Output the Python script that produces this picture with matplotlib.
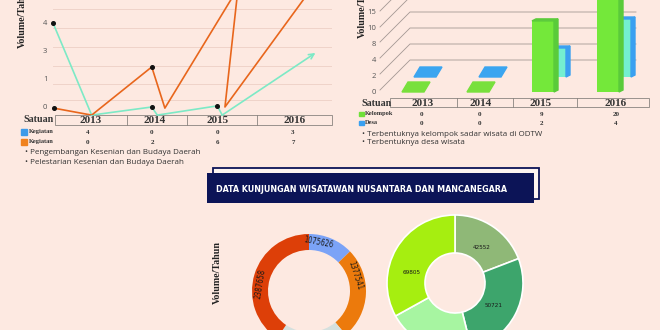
import numpy as np
import matplotlib
matplotlib.use("Agg")
import matplotlib.pyplot as plt
from matplotlib.patches import Rectangle, Polygon
from matplotlib import font_manager as fm

# ---------------- data ----------------
years = ['2013', '2014', '2015', '2016']
kegiatan_pengembangan = [4, 0, 0, 3]
kegiatan_pelestarian = [0, 2, 6, 7]
kelompok = [0, 0, 9, 20]
desa = [0, 0, 2, 4]

left_tick_labels = ['0', '1', '3', '4']
right_tick_labels = ['0', '2', '4', '8', '10', '15']

# line chart vertices (x in year units, y in tick-position units)
teal_x = [2012.45, 2013.01, 2013.88, 2013.96, 2014.83, 2014.90, 2016.25]
teal_y = [3.0, -0.29, 0.0, -0.29, 0.04, -0.29, 1.93]
orange_x = [2012.46, 2013.01, 2013.88, 2014.07, 2015.13, 2014.94, 2016.20]
orange_y = [-0.04, -0.29, 1.43, -0.04, 4.25, 0.0, 4.25]

donut1_labels = ['1075626', '1377541', '', '2387658']
donut1_shares = [46, 94, 74, 146]
donut2_labels = ['42552', '50721', '', '69805']
donut2_shares = [69, 97, 75, 119]

bullets_left = ['Pengembangan Kesenian dan Budaya Daerah',
                'Pelestarian Kesenian dan Budaya Daerah']
bullets_right = ['Terbentuknya kelompok sadar wisata di ODTW',
                 'Terbentuknya desa wisata']
title = 'DATA KUNJUNGAN WISATAWAN NUSANTARA DAN MANCANEGARA'

# ---------------- style ----------------
BG = '#fde9e1'
TEAL = '#7de9c6'
ORANGE = '#e8661c'
NAVY = '#0c1457'


def has(name):
    try:
        fm.findfont(fm.FontProperties(family=name), fallback_to_default=False)
        return True
    except Exception:
        return False


def condensed_available():
    try:
        p = fm.findfont(fm.FontProperties(family='DejaVu Sans', stretch='condensed',
                                          weight='bold'), fallback_to_default=False)
        return 'ondensed' in p
    except Exception:
        return False


if has('Liberation Sans Narrow'):
    NARROW = dict(family='Liberation Sans Narrow')
    title_fs = 7.8
    lab_scale = 1.0
elif condensed_available():
    NARROW = dict(family='DejaVu Sans', stretch='condensed')
    title_fs = 6.4
    lab_scale = 0.82
else:
    NARROW = dict(family='DejaVu Sans')
    title_fs = 5.7
    lab_scale = 0.75

SERIF = 'Liberation Serif' if has('Liberation Serif') else 'DejaVu Serif'
SANS = 'Open Sans' if has('Open Sans') else 'DejaVu Sans'

W, H = 660, 330
fig = plt.figure(figsize=(6.6, 3.3), dpi=100, facecolor=BG)


def rect(x, y, w, h):
    return [x / W, 1 - (y + h) / H, w / W, h / H]


cv = fig.add_axes([0, 0, 1, 1])
cv.set_xlim(0, W)
cv.set_ylim(H, 0)
cv.axis('off')
cv.set_zorder(0)

# ---------------- left line chart ----------------
ax1 = fig.add_axes(rect(53, 0, 279, 115))
ax1.set_zorder(2)
ax1.patch.set_alpha(0)
ax1.set_xlim(2012.45, 2016.49)
ax1.set_ylim(-0.286, 3.82)
for s in ax1.spines.values():
    s.set_visible(False)
for g in [3.5, 2.82, 2.14, 1.46, 0.82, 0.25]:
    ax1.axhline(g, color='#efd3c9', lw=0.7, zorder=0)
ax1.set_xticks([])
ax1.set_yticks(range(len(left_tick_labels)))
ax1.set_yticklabels(left_tick_labels, fontsize=5.5, color='#555555', family=SANS)
ax1.tick_params(axis='y', length=0, pad=4)
ax1.plot(teal_x[:-1], teal_y[:-1], color=TEAL, lw=1.2, zorder=2, clip_on=False)
ax1.annotate('', xy=(teal_x[-1], teal_y[-1]), xytext=(teal_x[-2], teal_y[-2]),
             arrowprops=dict(arrowstyle='->', color=TEAL, lw=1.2, mutation_scale=9,
                             shrinkA=0, shrinkB=0), zorder=2)
ax1.plot(orange_x, orange_y, color=ORANGE, lw=1.2, zorder=3, clip_on=True)
ax1.plot([teal_x[0], teal_x[2], teal_x[4]], [teal_y[0], teal_y[2], teal_y[4]],
         'o', color='#111111', ms=2.6, zorder=4, clip_on=False)
ax1.plot([orange_x[0], orange_x[2]], [orange_y[0], orange_y[2]],
         'o', color='#111111', ms=2.6, zorder=4, clip_on=False)

cv.text(22, 17, 'Volume/Tahun', rotation=90, ha='center', va='center',
        family=SERIF, weight='bold', fontsize=7.2, color='#222222')


# tables
def draw_table(x0, x1, y0, y1, dividers, centers, label_x, label_y):
    cv.add_patch(Rectangle((x0, y0), x1 - x0, y1 - y0, fill=False,
                           ec='#8a8480', lw=0.6))
    for d in dividers:
        cv.plot([d, d], [y0, y1], color='#8a8480', lw=0.6)
    for c, yr in zip(centers, years):
        cv.text(c, (y0 + y1) / 2 + 0.5, yr, ha='center', va='center',
                family=SERIF, weight='bold', fontsize=8, color='#333333')
    cv.text(label_x, label_y, 'Satuan', ha='left', va='center',
            family=SERIF, weight='bold', fontsize=7.2, color='#333333')


draw_table(55, 332, 115, 125, [127, 187, 257], [91, 155, 218, 295], 23, 120)
left_vals_x = [88, 152, 217, 293]
for vals, col, yy in [(kegiatan_pengembangan, '#3d9be9', 132),
                      (kegiatan_pelestarian, '#f0821e', 142)]:
    cv.add_patch(Rectangle((21, yy - 3), 6, 5.5, color=col))
    cv.text(29, yy, 'Kegiatan', ha='left', va='center', family=SERIF,
            weight='bold', fontsize=4.6, color='#333333')
    for x, v in zip(left_vals_x, vals):
        cv.text(x, yy + 0.5, str(v), ha='center', va='center', family=SERIF,
                weight='bold', fontsize=5, color='#333333')
for k, t in enumerate(bullets_left):
    cv.text(25, 153 + 9 * k, '\u2022 ' + t, ha='left', va='center', family=SANS,
            fontsize=5.8, color='#333333')

# ---------------- right 3D bar chart ----------------
tick_py = [92, 76, 60, 44, 29, 13]
for lab, py in zip(right_tick_labels, tick_py):
    cv.text(376, py, lab, ha='right', va='center', family=SANS, fontsize=5.5,
            color='#555555')
    cv.plot([380, 410, 636], [py - 2, py - 32, py - 32], color='#a39893', lw=0.6)
cv.text(362, 6, 'Volume/Tahun', rotation=90, ha='center', va='center',
        family=SERIF, weight='bold', fontsize=7.2, color='#222222')

ax2 = fig.add_axes(rect(378, 0, 272, 98))
ax2.set_zorder(2)
ax2.patch.set_alpha(0)
ax2.axis('off')
PXU_X = 65.0   # px per category
PXU_Y = 7.9    # px per value unit
ax2.set_xlim(-35 / PXU_X, 237 / PXU_X)
ax2.set_ylim(-6 / PXU_Y, 92 / PXU_Y)
bw = 22 / PXU_X
sdx, sdy = 4 / PXU_X, 2 / PXU_Y
fdx, fdy = 6 / PXU_X, 10 / PXU_Y
desa_ox, desa_oy = 12 / PXU_X, 15 / PXU_Y
desa_scale = 14.5 / PXU_Y


def bar3d(xc, base, h, front, side, top, z):
    x0 = xc - bw / 2
    if h <= 0:
        ax2.add_patch(Polygon([(x0, base), (x0 + bw, base), (x0 + bw + fdx, base + fdy),
                               (x0 + fdx, base + fdy)], closed=True, color=top, zorder=z))
        return
    ax2.bar(xc, h, width=bw, bottom=base, color=front, zorder=z)
    ax2.add_patch(Polygon([(x0 + bw, base), (x0 + bw + sdx, base + sdy),
                           (x0 + bw + sdx, base + h + sdy), (x0 + bw, base + h)],
                          closed=True, color=side, zorder=z))
    ax2.add_patch(Polygon([(x0, base + h), (x0 + bw, base + h),
                           (x0 + bw + sdx, base + h + sdy), (x0 + sdx, base + h + sdy)],
                          closed=True, color=side, zorder=z))


for i, v in enumerate(desa):
    bar3d(i + desa_ox, desa_oy, v * desa_scale, '#74efd0', '#3aa0f0', '#3ba5f0', 2)
for i, v in enumerate(kelompok):
    bar3d(i, 0, v, '#74e83a', '#5acb3a', '#78e03c', 3)

draw_table(390, 649, 98, 107, [457, 513, 577], [423, 481, 541, 616], 361, 103)
right_vals_x = [421, 480, 541, 616]
for vals, col, lab, yy in [(kelompok, '#6fe03a', 'Kelompok', 114),
                           (desa, '#3aa0f0', 'Desa', 123)]:
    cv.add_patch(Rectangle((358.5, yy - 2.5), 5, 4.5, color=col))
    cv.text(365, yy, lab, ha='left', va='center', family=SERIF, weight='bold',
            fontsize=4.6, color='#333333')
    for x, v in zip(right_vals_x, vals):
        cv.text(x, yy + 0.5, str(v), ha='center', va='center', family=SERIF,
                weight='bold', fontsize=5, color='#333333')
for k, t in enumerate(bullets_right):
    cv.text(362, 134 + 8.5 * k, '\u2022 ' + t, ha='left', va='center', family=SANS,
            fontsize=5.8, color='#333333')

# ---------------- banner ----------------
cv.add_patch(Rectangle((213, 168), 326, 31, fc='#fdf4f0', ec=NAVY, lw=1.3, zorder=1))
cv.add_patch(Rectangle((207, 173), 327, 30, fc=NAVY, ec='none', zorder=2))
cv.text(362, 189, title, ha='center', va='center', color='white', weight='bold',
        fontsize=title_fs, zorder=3, **NARROW)

cv.text(217, 272, 'Volume/Tahun', rotation=90, ha='center', va='center',
        family=SERIF, weight='bold', fontsize=7.2, color='#222222')


# ---------------- donuts ----------------
def donut(cx, cy, r, shares, colors, width, edge, labels, lab_ang, lab_r, rotate, fs):
    ax = fig.add_axes(rect(cx - r, cy - r, 2 * r, 2 * r))
    ax.set_zorder(2)
    ax.pie(shares, colors=colors, startangle=90, counterclock=False, radius=1,
           wedgeprops=dict(width=width, edgecolor=edge,
                           linewidth=1.2 if edge != 'none' else 0))
    ax.set_xlim(-1, 1)
    ax.set_ylim(-1, 1)
    ax.set_aspect('equal')
    for lab, a in zip(labels, lab_ang):
        if not lab:
            continue
        t = np.deg2rad(a)
        rot = (a - 90) if rotate else 0
        ax.text(lab_r * np.cos(t), lab_r * np.sin(t), lab, ha='center', va='center',
                rotation=rot, rotation_mode='anchor', fontsize=fs,
                color='#1a1a1a', **NARROW)
    return ax


donut(309, 291, 57, donut1_shares, ['#7ba3f7', '#ec7a0c', '#d5e0de', '#dd3f08'],
      16 / 57, 'none', donut1_labels, [79, 18, 0, 171], 0.86, True, 6.6 * lab_scale)
donut(455, 283, 68, donut2_shares, ['#8fb877', '#3da56c', '#a7f5a1', '#a6ee10'],
      38 / 68, 'white', donut2_labels, [53, -30, 0, 166], 0.66, False, 5.6 * lab_scale)

fig.savefig('out.png', dpi=100, facecolor=BG)
